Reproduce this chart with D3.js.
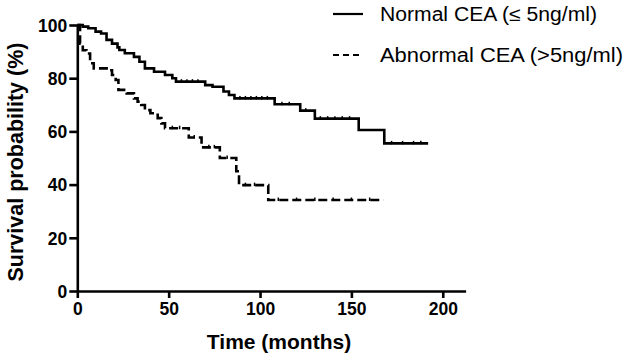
<!DOCTYPE html>
<html><head><meta charset="utf-8">
<script src="https://cdn.jsdelivr.net/npm/d3@7"></script>
<style>body{margin:0;background:#fff}svg{display:block}text{font-family:"Liberation Sans",Arial,sans-serif;fill:#000}</style>
</head><body><svg id="c" width="629" height="359"></svg>
<script>
const seriesNames = ["Normal CEA (\u2264 5ng/ml)", "Abnormal CEA (>5ng/ml)"];
const xTicks = [0, 50, 100, 150, 200];
const yTicks = [0, 20, 40, 60, 80, 100];
// Normal CEA: event times (months) and survival (%) after each event
const normalTimes = [0, 3, 6, 10, 13, 16, 19, 22, 23, 26, 31, 34, 37, 42, 48, 52, 54, 70, 74, 80, 83, 86, 108, 122, 130, 154, 168, 192];
const normalSurv  = [100, 99.4, 98.8, 97.5, 96.8, 94.4, 93, 91.6, 90.6, 89.4, 88, 86.2, 83.7, 82.4, 81.2, 80, 78.7, 77.4, 76.8, 75, 73.7, 72.4, 70.2, 67.8, 64.8, 60.5, 55.5, 55.5];
const normalCensor = [57, 60, 63, 66, 89, 92, 95, 98, 101, 104, 112, 116, 125, 133, 137, 141, 145, 149, 172, 178, 184, 188];
// Abnormal CEA
const abnormalTimes = [0, 1.5, 3, 5, 7, 9, 17, 19, 21, 22.5, 27, 31, 33, 35, 37, 40, 44, 46, 48, 61, 68, 78, 87, 88.5, 104.5, 167.5];
const abnormalSurv  = [100, 93, 90.5, 89.3, 85.6, 83.7, 83, 81.2, 79.3, 75.6, 74.3, 72.4, 71.2, 69.9, 68, 66.8, 65, 63, 61.2, 57.7, 54, 50, 45, 39.8, 34.2, 34.2];
const abnormalCensor = [52, 56, 64, 72, 75, 82, 92, 97, 110, 120, 130, 140, 150, 160];

const svg = d3.select("#c");
const x = d3.scaleLinear().domain([0, 212.5]).range([77.3, 465.6]);
const y = d3.scaleLinear().domain([0, 100]).range([291, 25]);

// axes
const gx = svg.append("g").attr("transform", `translate(0,${y(0)})`)
  .call(d3.axisBottom(x).tickValues(xTicks).tickSize(7).tickSizeOuter(0).tickPadding(5));
const gy = svg.append("g").attr("transform", `translate(${x(0)},0)`)
  .call(d3.axisLeft(y).tickValues(yTicks).tickSize(8).tickSizeOuter(0).tickPadding(2));
[gx, gy].forEach(g => {
  g.selectAll("path,line").attr("stroke", "#000").attr("stroke-width", 2.6);
  g.selectAll("text").style("font-size", "17.5px").style("font-weight", "bold").attr("fill", "#000");
});
gy.selectAll("text").attr("dy", "0.36em");

// axis titles
svg.append("text").attr("x", 279).attr("y", 349).attr("text-anchor", "middle")
  .style("font-size", "21px").style("font-weight", "bold").text("Time (months)");
svg.append("text").attr("transform", "translate(23,162) rotate(-90)").attr("text-anchor", "middle")
  .style("font-size", "21.5px").style("font-weight", "bold").text("Survival probability (%)");

const line = d3.line().x(d => x(d[0])).y(d => y(d[1])).curve(d3.curveStepAfter);
function survAt(times, surv, t) { let s = surv[0]; for (let i = 0; i < times.length; i++) if (times[i] <= t) s = surv[i]; return s; }

const series = [
  {times: normalTimes, surv: normalSurv, cens: normalCensor, dash: null},
  {times: abnormalTimes, surv: abnormalSurv, cens: abnormalCensor, dash: "9,4"}
];
series.forEach(s => {
  const pts = s.times.map((t, i) => [t, s.surv[i]]);
  svg.append("path").attr("d", line(pts)).attr("fill", "none").attr("stroke", "#000")
    .attr("stroke-width", 2.6).attr("stroke-dasharray", s.dash);
  svg.append("g").selectAll("line").data(s.cens).join("line")
    .attr("x1", d => x(d)).attr("x2", d => x(d))
    .attr("y1", d => y(survAt(s.times, s.surv, d)) - 2.5)
    .attr("y2", d => y(survAt(s.times, s.surv, d)) + 1)
    .attr("stroke", "#000").attr("stroke-width", 1.5);
});

// legend
const legend = svg.append("g");
seriesNames.forEach((name, i) => {
  const yy = [14, 55][i];
  legend.append("line").attr("x1", 333).attr("x2", 363).attr("y1", yy).attr("y2", yy)
    .attr("stroke", "#000").attr("stroke-width", 2.2).attr("stroke-dasharray", series[i].dash ? "6,4" : null);
  legend.append("text").attr("x", 380).attr("y", yy + 6.5).style("font-size", "19.5px")
    .attr("textLength", [217, 243][i]).attr("lengthAdjust", "spacingAndGlyphs").text(name);
});
</script></body></html>
